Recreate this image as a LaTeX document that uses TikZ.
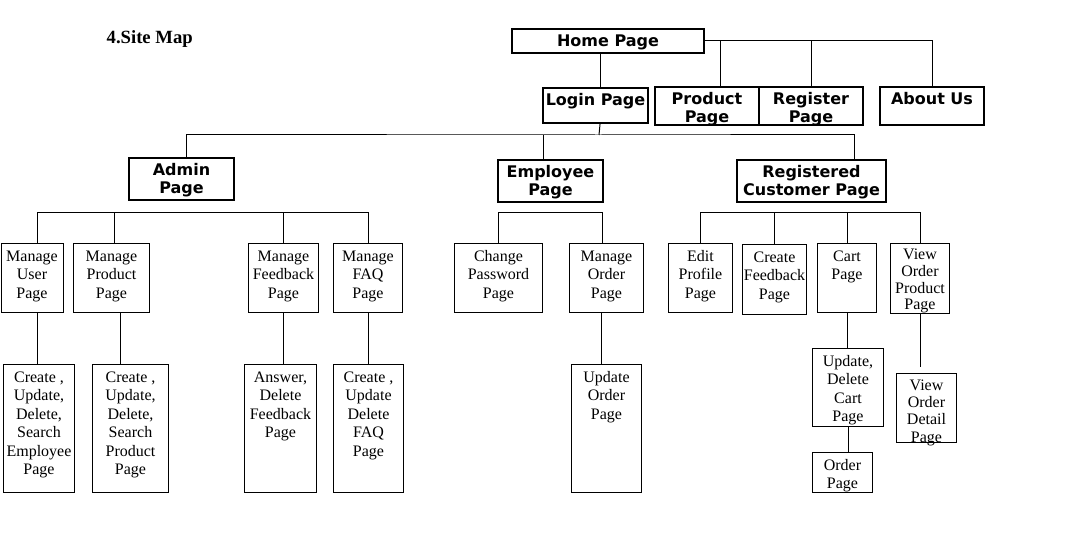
\documentclass[tikz,border=0pt]{standalone}
\usepackage{fontspec}
\setmainfont{Liberation Serif}
\newfontfamily\hfont{DejaVu Sans}
\usepackage{tikz}
\newlength{\px}\setlength{\px}{0.75pt}
\newcommand{\pbox}[3]{\parbox[t][#2\px][t]{#1\px}{\centering\vspace*{3.5pt}\strut #3}}
\tikzstyle{page} = [rectangle, draw=black, line width=0.75pt, inner sep=0pt, anchor=north west, font=\fontsize{12}{13.9}\selectfont]
\tikzstyle{mainpage} = [page, line width=1.5pt, font=\hfont\bfseries\fontsize{12}{13.5}\selectfont]
\tikzstyle{link} = [line width=0.75pt]

\begin{document}
\begin{tikzpicture}[x=0.75pt, y=-0.75pt]
\useasboundingbox (0,0) rectangle (1068,541);
\node (title) [anchor=west, font=\bfseries\fontsize{14}{16}\selectfont] at (102,39) {4.Site Map};

\node (home) [mainpage] at (511,28) {\pbox{192}{24}{Home Page}};
\node (login) [mainpage] at (542,87) {\pbox{105}{35}{Login Page}};
\node (product) [mainpage] at (654,86) {\pbox{104}{38}{Product\\Page}};
\node (register) [mainpage] at (758,86) {\pbox{104}{38}{Register\\Page}};
\node (about) [mainpage] at (879,86) {\pbox{104}{38}{About Us}};

\node (admin) [mainpage] at (128,157) {\pbox{105}{42}{Admin\\Page}};
\node (employee) [mainpage] at (497,159) {\pbox{105}{42}{Employee\\Page}};
\node (registered) [mainpage] at (736,159) {\pbox{149}{42}{Registered\\Customer Page}};

\node (mu) [page] at (0.5,243) {\pbox{62}{69}{Manage\\User\\Page}};
\node (mp) [page] at (73,243) {\pbox{76}{69}{Manage\\Product\\Page}};
\node (mf) [page] at (248,243) {\pbox{70}{69}{Manage\\Feedback\\Page}};
\node (mfaq) [page] at (333,243) {\pbox{69}{69}{Manage\\FAQ\\Page}};
\node (cp) [page] at (454,243) {\pbox{88}{69}{Change\\Password\\Page}};
\node (mo) [page] at (569,243) {\pbox{74}{69}{Manage\\Order\\Page}};
\node (ep) [page] at (668,243) {\pbox{64}{69}{Edit\\Profile\\Page}};
\node (cf) [page] at (742,244) {\pbox{64}{70}{Create\\Feedback\\Page}};
\node (cart) [page] at (817,243) {\pbox{59}{69}{Cart\\Page}};
\node (vop) [page, font=\fontsize{12}{12.5}\selectfont] at (890,243) {\pbox{59}{70}{View\\Order\\Product\\Page}};

\node (cue) [page] at (3,364) {\pbox{71}{128}{Create ,\\Update,\\Delete,\\Search\\Employee\\Page}};
\node (cup) [page] at (92,364) {\pbox{76}{128}{Create ,\\Update,\\Delete,\\Search\\Product\\Page}};
\node (adf) [page] at (244,364) {\pbox{72}{128}{Answer,\\Delete\\Feedback\\Page}};
\node (cud) [page] at (333,364) {\pbox{70}{128}{Create ,\\Update\\Delete\\FAQ\\Page}};
\node (uo) [page] at (571,364) {\pbox{70}{128}{Update\\Order\\Page}};
\node (udc) [page] at (812,348) {\pbox{71}{78}{Update,\\Delete\\Cart\\Page}};
\node (order) [page] at (812,452) {\pbox{60}{40}{Order\\Page}};
\node (vod) [page, font=\fontsize{12}{13}\selectfont] at (896,373) {\pbox{60}{69}{View\\Order\\Detail\\Page}};

\coordinate (loginbus) at (599,135);
\coordinate (subbus) at (0,213);

% top level
\draw [link] (home.east) -| (about.north);
\draw [link] ([xshift=9.75pt]product.north) -- ([xshift=9.75pt]product.north |- home.east);
\draw [link] (register.north) -- (register.north |- home.east);
\draw [link] ([xshift=3.4pt]login.north) -- ([xshift=3.4pt]login.north |- home.south);

% login branches
\draw [link] ([xshift=3.4pt]login.south) -- (loginbus);
\draw [link] ([xshift=3.4pt]admin.north) |- (loginbus) -| ([xshift=32.6pt]registered.north);
\draw [link] ([xshift=-5.6pt]employee.north) -- ([xshift=-5.6pt]employee.north |- loginbus);

% sub pages
\draw [link] ([xshift=3.75pt]mu.north) |- (mfaq.north |- subbus) -- (mfaq.north);
\draw [link] ([xshift=2.25pt]mp.north) -- ([xshift=2.25pt]mp.north |- subbus);
\draw [link] (mf.north) -- (mf.north |- subbus);
\draw [link] (cp.north) |- ([xshift=-3pt]mo.north |- subbus) -- ([xshift=-3pt]mo.north);
\draw [link] (ep.north) |- (vop.north |- subbus) -- (vop.north);
\foreach \n in {cf, cart}
  \draw [link] (\n.north) -- (\n.north |- subbus);

\draw [link] ([xshift=3.75pt]mu.south) -- ([xshift=3.75pt]mu.south |- cue.north);
\draw [link] ([xshift=-7.5pt]cup.north) -- ([xshift=-7.5pt]cup.north |- mp.south);
\draw [link] (mf.south) -- (mf.south |- adf.north);
\draw [link] (mfaq.south) -- (mfaq.south |- cud.north);
\draw [link] ([xshift=-3.75pt]mo.south) -- ([xshift=-3.75pt]mo.south |- uo.north);
\draw [link] (cart.south) -- (cart.south |- udc.north);
\draw [link] (udc.south) -- (udc.south |- order.north);
\draw [link, shorten >=4.5pt] (vop.south) -- (vop.south |- vod.north);
\end{tikzpicture}
\end{document}
